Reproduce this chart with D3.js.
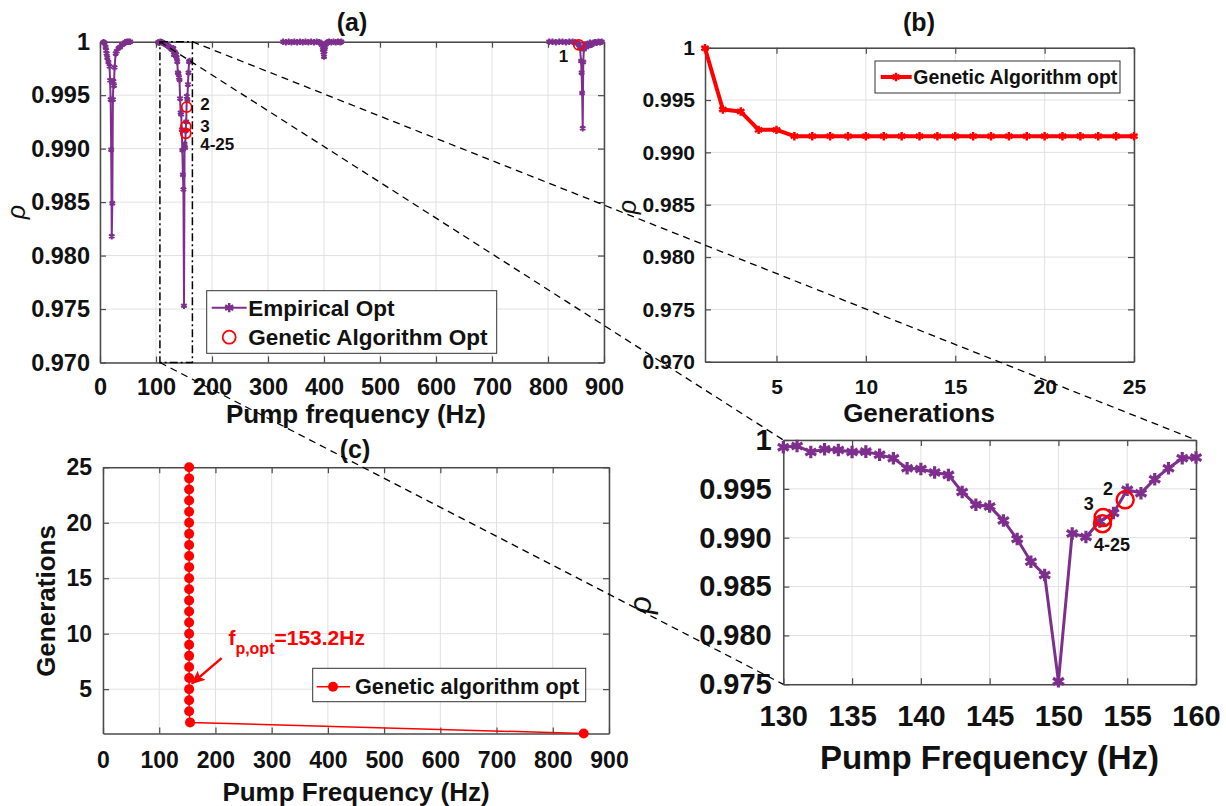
<!DOCTYPE html>
<html>
<head>
<meta charset="utf-8">
<script src="https://cdn.jsdelivr.net/npm/d3@7"></script>
<style>
body { margin: 0; background: #fff; }
svg text { font-family: "Liberation Sans", Arial, sans-serif; font-weight: bold; }
</style>
</head>
<body>
<div id="chart"></div>
<script>
// Empirical sweeps of the pump frequency (Hz) and correlation rho, panel (a); sweep 2 is zoomed in panel (d)
var sweep1Freq = [6, 8, 10, 11, 12, 13, 15, 17, 18, 19, 20, 21, 22, 23, 24, 25, 26, 28, 30, 33, 36, 39, 42, 45, 48, 51, 54];
var sweep1Rho = [0.99995, 0.9999, 0.9995, 0.9992, 0.9989, 0.9985, 0.9981, 0.9977, 0.9964, 0.9946, 0.9899, 0.9818, 0.9849, 0.9946, 0.9963, 0.9959, 0.9976, 0.9989, 0.9991, 0.9994, 0.9995, 0.9997, 0.9998, 0.99995, 1.0, 1.0, 1.0];
var sweep2Freq = [104, 106, 108, 110, 112, 114, 116, 118, 120, 122, 124, 126, 128,
    130, 131, 132, 133, 134, 135, 136, 137, 138, 139, 140, 141, 142, 143, 144, 145,
    146, 147, 148, 149, 150, 151, 152, 153, 154, 155, 156, 157, 158, 159, 160];
var sweep2Rho = [0.99995, 0.9999, 1.0, 0.99995, 0.9999, 0.99985, 0.9998, 0.9997, 0.99965, 0.9996, 0.9995, 0.9994, 0.9993,
    0.99925, 0.99939, 0.99878, 0.99905, 0.99898, 0.99878, 0.99881, 0.9985, 0.99813, 0.99711, 0.99704, 0.99667, 0.99643, 0.99469, 0.99337, 0.9932,
    0.99177, 0.98986, 0.98755, 0.98619, 0.9753, 0.99044, 0.99007, 0.99167, 0.99252, 0.9949, 0.99456, 0.99599, 0.99711, 0.99813, 0.9982];
var sweep3Freq = [327, 332, 337, 342, 347, 352, 357, 362, 367, 372, 377, 382, 387, 391, 394, 396, 398, 399, 400, 401, 402, 404, 406, 409, 413, 417, 421, 425, 429, 431];
var sweep3Rho = [1.0, 0.99995, 1.0, 0.99995, 1.0, 0.99995, 1.0, 0.99995, 1.0, 0.99995, 1.0, 0.99995, 1.0, 0.99995, 0.9999, 0.9997, 0.9993, 0.9990, 0.9986, 0.9991, 0.9995, 0.9998, 0.99995, 1.0, 0.99995, 1.0, 0.99995, 1.0, 0.99995, 1.0];
var sweep4Freq = [802, 808, 814, 820, 826, 832, 838, 844, 848, 852, 855, 857, 859, 860, 861, 862, 863, 864, 866, 868, 870, 872, 875, 878, 881, 884, 887, 890, 893, 896];
var sweep4Rho = [1.0, 1.0, 0.99995, 1.0, 1.0, 0.99995, 1.0, 1.0, 0.99995, 0.9999, 0.9997, 0.9995, 0.9982, 0.9971, 0.9952, 0.9919, 0.9981, 0.9993, 0.9997, 0.9995, 0.9998, 0.9996, 0.9999, 0.9997, 0.9999, 0.99995, 0.9999, 1.0, 0.99995, 1.0];

// Genetic algorithm, per generation (panels b, c)
var gaGen = [1, 2, 3, 4, 5, 6, 7, 8, 9, 10, 11, 12, 13, 14, 15, 16, 17, 18, 19, 20, 21, 22, 23, 24, 25];
var gaRho = [0.99995, 0.9941, 0.9939, 0.99215, 0.99215, 0.99155, 0.99155, 0.99155, 0.99155, 0.99155, 0.99155, 0.99155, 0.99155,
    0.99155, 0.99155, 0.99155, 0.99155, 0.99155, 0.99155, 0.99155, 0.99155, 0.99155, 0.99155, 0.99155, 0.99155];
var gaFreq = [855, 154.85, 153.25, 153.2, 153.2, 153.2, 153.2, 153.2, 153.2, 153.2, 153.2, 153.2, 153.2,
    153.2, 153.2, 153.2, 153.2, 153.2, 153.2, 153.2, 153.2, 153.2, 153.2, 153.2, 153.2];

// GA optimum circles drawn on the empirical curve (panels a, d)
var gaMarkFreq = [855, 154.85, 153.25, 153.2];
var gaMarkRho = [0.9997, 0.99388, 0.99207, 0.99143];

// Tick values
var freqTicks = [0, 100, 200, 300, 400, 500, 600, 700, 800, 900];
var rhoTicks = [0.970, 0.975, 0.980, 0.985, 0.990, 0.995, 1];
var genTicks = [5, 10, 15, 20, 25];
var zoomFreqTicks = [130, 135, 140, 145, 150, 155, 160];
var zoomRhoTicks = [0.975, 0.980, 0.985, 0.990, 0.995, 1];

// Zoom window shown in (a) and detailed in (d)
var zoomBoxFreq = [107, 165];

var width = 1226, height = 806;
var purple = '#7e2f8e', red = '#ff0000', ink = '#111';

var svg = d3.select('#chart')
    .append('svg')
    .attr('width', width)
    .attr('height', height);

var xA = d3.scaleLinear().domain([0, 900]).range([100, 604]);
var yA = d3.scaleLinear().domain([0.970, 1]).range([362.5, 41.7]);
var xB = d3.scaleLinear().domain([1, 25]).range([705, 1134]);
var yB = d3.scaleLinear().domain([0.970, 1]).range([361.7, 47.7]);
var xC = d3.scaleLinear().domain([0, 900]).range([103, 609]);
var yC = d3.scaleLinear().domain([1, 25]).range([733.5, 467.3]);
var xD = d3.scaleLinear().domain([130, 160]).range([783.3, 1196]);
var yD = d3.scaleLinear().domain([0.975, 1]).range([684.3, 440]);

function fmtRho(d) { return d === 1 ? '1' : d3.format('.3f')(d); }
function noLabel() { return ''; }

function drawGrid(g, x, y, xt, yt) {
    g.append('g').selectAll('line').data(xt).join('line')
        .attr('x1', function (d) { return x(d); }).attr('x2', function (d) { return x(d); })
        .attr('y1', y.range()[0]).attr('y2', y.range()[1])
        .attr('stroke', '#e0e0e0').attr('stroke-width', 1);
    g.append('g').selectAll('line').data(yt).join('line')
        .attr('y1', function (d) { return y(d); }).attr('y2', function (d) { return y(d); })
        .attr('x1', x.range()[0]).attr('x2', x.range()[1])
        .attr('stroke', '#e0e0e0').attr('stroke-width', 1);
}

function drawAxes(g, x, y, xt, yt, fx, fy, fontSize, padB, padL) {
    var axG = g.append('g');
    axG.append('g').attr('transform', 'translate(0,' + y.range()[0] + ')')
        .call(d3.axisBottom(x).tickValues(xt).tickFormat(fx).tickSizeInner(-6).tickSizeOuter(0).tickPadding(padB));
    axG.append('g').attr('transform', 'translate(0,' + y.range()[1] + ')')
        .call(d3.axisTop(x).tickValues(xt).tickFormat(noLabel).tickSizeInner(-6).tickSizeOuter(0));
    axG.append('g').attr('transform', 'translate(' + x.range()[0] + ',0)')
        .call(d3.axisLeft(y).tickValues(yt).tickFormat(fy).tickSizeInner(-6).tickSizeOuter(0).tickPadding(padL));
    axG.append('g').attr('transform', 'translate(' + x.range()[1] + ',0)')
        .call(d3.axisRight(y).tickValues(yt).tickFormat(noLabel).tickSizeInner(-6).tickSizeOuter(0));
    axG.selectAll('.domain').attr('stroke', '#4a4a4a').attr('stroke-width', 1.5);
    axG.selectAll('.tick line').attr('stroke', '#4a4a4a').attr('stroke-width', 1.2);
    axG.selectAll('.tick text')
        .attr('fill', ink)
        .attr('font-size', fontSize)
        .style('font-family', '"Liberation Sans", Arial, sans-serif')
        .style('font-weight', 'bold');
}

function label(txt, x, y, size, anchor, rotate, italic, color) {
    var t = svg.append('text')
        .attr('transform', 'translate(' + x + ',' + y + ')' + (rotate ? ' rotate(-90)' : ''))
        .attr('text-anchor', anchor || 'middle')
        .attr('font-size', size)
        .attr('fill', color || ink)
        .text(txt);
    if (italic) t.attr('font-style', 'italic').style('font-weight', 'normal');
    return t;
}

function starPath(size) { return d3.symbol().type(d3.symbolAsterisk).size(size)(); }

// ---------- panel (a) ----------
var gA = svg.append('g').classed('panel-a', true);
drawGrid(gA, xA, yA, freqTicks, rhoTicks);
drawAxes(gA, xA, yA, freqTicks, rhoTicks, d3.format('d'), fmtRho, 23.5, 16, 10);

var lineA = d3.line().x(function (d) { return xA(d[0]); }).y(function (d) { return yA(d[1]); });
var sweepsA = [d3.zip(sweep1Freq, sweep1Rho), d3.zip(sweep2Freq, sweep2Rho), d3.zip(sweep3Freq, sweep3Rho), d3.zip(sweep4Freq, sweep4Rho)];
sweepsA.forEach(function (pts) {
    gA.append('path').datum(pts)
        .attr('d', lineA).attr('fill', 'none')
        .attr('stroke', purple).attr('stroke-width', 2);
    gA.append('g').selectAll('path').data(pts).join('path')
        .attr('d', starPath(28))
        .attr('transform', function (d) { return 'translate(' + xA(d[0]) + ',' + yA(d[1]) + ')'; })
        .attr('fill', 'none').attr('stroke', purple).attr('stroke-width', 2);
});
gA.append('g').selectAll('circle').data(d3.zip(gaMarkFreq, gaMarkRho)).join('circle')
    .attr('cx', function (d) { return xA(d[0]); })
    .attr('cy', function (d) { return yA(d[1]); })
    .attr('r', 5).attr('fill', 'none').attr('stroke', red).attr('stroke-width', 1.8);

// dash-dot zoom window
gA.append('rect')
    .attr('x', xA(zoomBoxFreq[0])).attr('y', yA(1))
    .attr('width', xA(zoomBoxFreq[1]) - xA(zoomBoxFreq[0]))
    .attr('height', yA(0.970) - yA(1))
    .attr('fill', 'none').attr('stroke', '#000').attr('stroke-width', 1.5)
    .attr('stroke-dasharray', '8,3,2,3');

label('1', xA(819), yA(0.99813), 17, 'start');
label('2', xA(179), yA(0.99362), 17, 'start');
label('3', xA(179), yA(0.99159), 17, 'start');
label('4-25', xA(179), yA(0.98988), 17, 'start');

// legend (a)
var legA = svg.append('g').attr('transform', 'translate(206.7,290.7)');
legA.append('rect').attr('width', 290).attr('height', 62.6).attr('fill', '#fff').attr('stroke', '#333').attr('stroke-width', 1);
legA.append('line').attr('x1', 5).attr('x2', 40).attr('y1', 17).attr('y2', 17).attr('stroke', purple).attr('stroke-width', 2);
legA.append('path').attr('d', starPath(60)).attr('transform', 'translate(22.5,17)').attr('fill', 'none').attr('stroke', purple).attr('stroke-width', 2.5);
legA.append('text').attr('x', 41.6).attr('y', 25).attr('font-size', 22.5).attr('fill', ink).text('Empirical Opt');
legA.append('circle').attr('cx', 22.5).attr('cy', 46.5).attr('r', 6.5).attr('fill', 'none').attr('stroke', red).attr('stroke-width', 1.8);
legA.append('text').attr('x', 41.6).attr('y', 54.5).attr('font-size', 22.5).attr('fill', ink).text('Genetic Algorithm Opt');

label('(a)', 352, 31, 25);
label('Pump frequency (Hz)', 356, 423, 26);
label('\u03c1', 25, 212, 25, 'middle', true, true);

// ---------- panel (b) ----------
var gB = svg.append('g').classed('panel-b', true);
drawGrid(gB, xB, yB, genTicks, rhoTicks);
drawAxes(gB, xB, yB, genTicks, rhoTicks, d3.format('d'), fmtRho, 21, 17, 10);
var lineB = d3.line().x(function (d) { return xB(d[0]); }).y(function (d) { return yB(d[1]); });
var ptsB = d3.zip(gaGen, gaRho);
gB.append('path').datum(ptsB).attr('d', lineB).attr('fill', 'none')
    .attr('stroke', red).attr('stroke-width', 4).attr('stroke-linejoin', 'round');
gB.append('g').selectAll('path').data(ptsB).join('path')
    .attr('d', starPath(50))
    .attr('transform', function (d) { return 'translate(' + xB(d[0]) + ',' + yB(d[1]) + ')'; })
    .attr('fill', 'none').attr('stroke', red).attr('stroke-width', 2.5);

var legB = svg.append('g').attr('transform', 'translate(875,61)');
legB.append('rect').attr('width', 245).attr('height', 32).attr('fill', '#fff').attr('stroke', '#333').attr('stroke-width', 1);
legB.append('line').attr('x1', 5.7).attr('x2', 36.7).attr('y1', 16).attr('y2', 16).attr('stroke', red).attr('stroke-width', 4);
legB.append('path').attr('d', starPath(50)).attr('transform', 'translate(21,16)').attr('fill', 'none').attr('stroke', red).attr('stroke-width', 2.5);
legB.append('text').attr('x', 38.3).attr('y', 23).attr('font-size', 19.5).attr('fill', ink).text('Genetic Algorithm opt');

label('(b)', 919, 31, 25);
label('Generations', 919, 422, 26);
label('\u03c1', 636, 207, 25, 'middle', true, true);

// ---------- panel (c) ----------
var gC = svg.append('g').classed('panel-c', true);
drawGrid(gC, xC, yC, freqTicks, genTicks);
drawAxes(gC, xC, yC, freqTicks, genTicks, d3.format('d'), d3.format('d'), 23, 18, 11);
var lineC = d3.line().x(function (d) { return xC(d[0]); }).y(function (d) { return yC(d[1]); });
var ptsC = d3.zip(gaFreq, gaGen);
gC.append('path').datum(ptsC).attr('d', lineC).attr('fill', 'none')
    .attr('stroke', red).attr('stroke-width', 1.5);
gC.append('g').selectAll('circle').data(ptsC).join('circle')
    .attr('cx', function (d) { return xC(d[0]); })
    .attr('cy', function (d) { return yC(d[1]); })
    .attr('r', 5).attr('fill', red);

// annotation arrow and text
var defs = svg.append('defs');
defs.append('marker').attr('id', 'arrowRed')
    .attr('markerUnits', 'userSpaceOnUse')
    .attr('markerWidth', 14).attr('markerHeight', 12)
    .attr('refX', 13).attr('refY', 6).attr('orient', 'auto')
    .append('path').attr('d', 'M0,0 L14,6 L0,12 L3,6 Z').attr('fill', red);
gC.append('line')
    .attr('x1', xC(211)).attr('y1', yC(7.8))
    .attr('x2', xC(158)).attr('y2', yC(5.5))
    .attr('stroke', red).attr('stroke-width', 2.5)
    .attr('marker-end', 'url(#arrowRed)');
var ann = svg.append('text').attr('x', xC(223)).attr('y', yC(9)).attr('font-size', 21).attr('fill', red);
ann.append('tspan').text('f');
ann.append('tspan').attr('font-size', 16).attr('dy', 9).text('p,opt');
ann.append('tspan').attr('dy', -9).text('=153.2Hz');

var legC = svg.append('g').attr('transform', 'translate(312.7,668.3)');
legC.append('rect').attr('width', 273).attr('height', 33.4).attr('fill', '#fff').attr('stroke', '#333').attr('stroke-width', 1);
legC.append('line').attr('x1', 4).attr('x2', 37.3).attr('y1', 18.4).attr('y2', 18.4).attr('stroke', red).attr('stroke-width', 1.5);
legC.append('circle').attr('cx', 20.3).attr('cy', 18.4).attr('r', 5).attr('fill', red);
legC.append('text').attr('x', 42.3).attr('y', 26).attr('font-size', 21.7).attr('fill', ink).text('Genetic algorithm opt');

label('(c)', 355, 458, 25);
label('Pump Frequency (Hz)', 356, 801, 26);
label('Generations', 55, 601, 26, 'middle', true);

// ---------- panel (d) ----------
var gD = svg.append('g').classed('panel-d', true);
drawGrid(gD, xD, yD, zoomFreqTicks, zoomRhoTicks);
drawAxes(gD, xD, yD, zoomFreqTicks, zoomRhoTicks, d3.format('d'), fmtRho, 29, 21, 11.6);
var lineD = d3.line().x(function (d) { return xD(d[0]); }).y(function (d) { return yD(d[1]); });
var ptsD = d3.zip(sweep2Freq, sweep2Rho).filter(function (d) { return d[0] >= 130 && d[0] <= 160; });
gD.append('path').datum(ptsD).attr('d', lineD).attr('fill', 'none')
    .attr('stroke', purple).attr('stroke-width', 3);
gD.append('g').selectAll('path').data(ptsD).join('path')
    .attr('d', starPath(110))
    .attr('transform', function (d) { return 'translate(' + xD(d[0]) + ',' + yD(d[1]) + ')'; })
    .attr('fill', 'none').attr('stroke', purple).attr('stroke-width', 3.2);
gD.append('g').selectAll('circle')
    .data(d3.zip(gaMarkFreq, gaMarkRho).filter(function (d) { return d[0] >= 130 && d[0] <= 160; }))
    .join('circle')
    .attr('cx', function (d) { return xD(d[0]); })
    .attr('cy', function (d) { return yD(d[1]); })
    .attr('r', 8.5).attr('fill', 'none').attr('stroke', red).attr('stroke-width', 2.5);

label('2', xD(153.6), yD(0.99439), 18);
label('3', xD(152.2), yD(0.99279), 18);
label('4-25', xD(153.9), yD(0.9886), 18);
label('Pump Frequency (Hz)', 989.5, 769, 33);
label('\u03c1', 651, 605, 31, 'middle', true, true);

// ---------- dashed zoom connectors, on top ----------
var zoomLines = [
    [[xA(zoomBoxFreq[0]), yA(1)], [xD(130), yD(1)]],
    [[xA(zoomBoxFreq[1]), yA(1)], [xD(160), yD(1)]],
    [[xA(zoomBoxFreq[0]), yA(0.970)], [xD(130), yD(0.975)]]
];
svg.append('g').selectAll('line').data(zoomLines).join('line')
    .attr('x1', function (d) { return d[0][0]; }).attr('y1', function (d) { return d[0][1]; })
    .attr('x2', function (d) { return d[1][0]; }).attr('y2', function (d) { return d[1][1]; })
    .attr('stroke', '#000').attr('stroke-width', 1.3).attr('stroke-dasharray', '7,5');
</script>
</body>
</html>
